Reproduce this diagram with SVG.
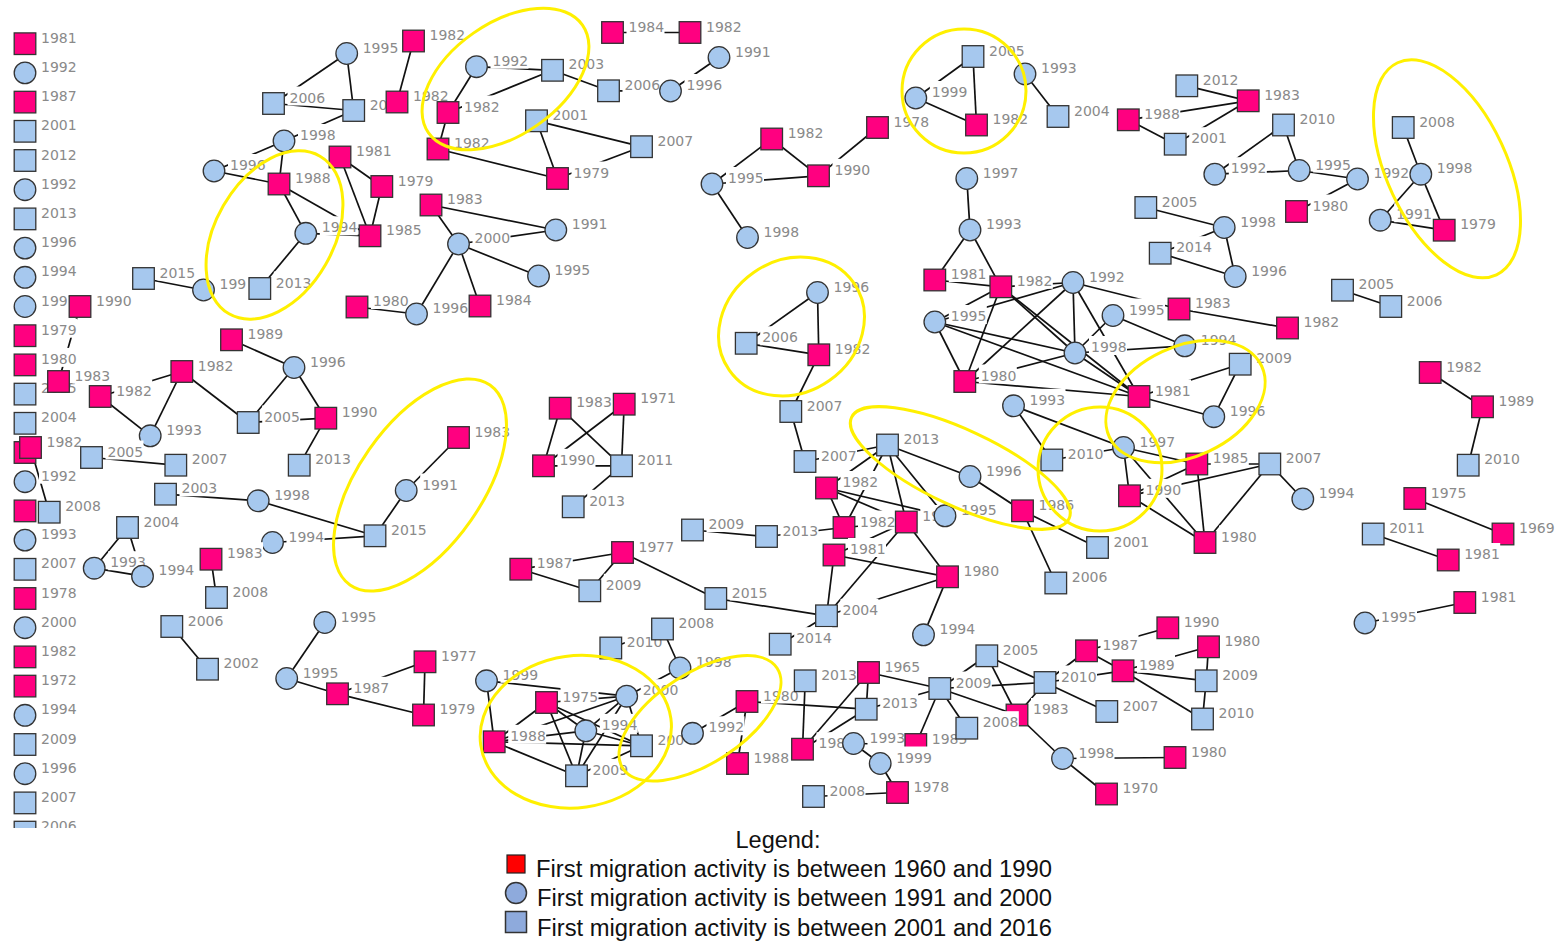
<svg xmlns="http://www.w3.org/2000/svg" xmlns:xlink="http://www.w3.org/1999/xlink" width="1561" height="943" viewBox="0 0 1561 943">
<style>
.p{fill:#ff0080;stroke:#333;stroke-width:1.3}
.b{fill:#a6c8ee;stroke:#333;stroke-width:1.3}
.n text{font-family:"DejaVu Sans",Verdana,sans-serif;font-size:14px;fill:#8a8a8a}
#connectors line{stroke:#111;stroke-width:1.7}
.ell{fill:none;stroke:#fff000;stroke-width:3}
.lg{font-family:"Liberation Sans",Arial,sans-serif;font-size:23.5px;fill:#111}
</style>
<defs>
<clipPath id="clip"><rect x="0" y="0" width="1561" height="828"/></clipPath>
<rect id="SP" x="-10.8" y="-10.8" width="21.6" height="21.6" class="p"/>
<rect id="SB" x="-10.8" y="-10.8" width="21.6" height="21.6" class="b"/>
<circle id="CB" r="10.8" class="b"/>
<rect id="L4" x="14" y="-17" width="38" height="19" fill="#fff"/>
<rect id="L3" x="14" y="-17" width="29" height="19" fill="#fff"/>
<rect id="L2" x="14" y="-17" width="20" height="19" fill="#fff"/>
</defs>
<rect width="1561" height="943" fill="#fff"/>
<g clip-path="url(#clip)">
<g id="connectors">
<line x1="80" y1="306.5" x2="58.5" y2="381.5"/><line x1="30.5" y1="447.5" x2="49.2" y2="512.2"/>
<line x1="346.7" y1="53.5" x2="273.5" y2="103.5"/><line x1="346.7" y1="53.5" x2="353.7" y2="110.5"/><line x1="273.5" y1="103.5" x2="353.7" y2="110.5"/><line x1="353.7" y1="110.5" x2="284" y2="141"/><line x1="413.5" y1="41" x2="397" y2="102"/><line x1="284" y1="141" x2="214" y2="171"/><line x1="284" y1="141" x2="279" y2="184"/><line x1="214" y1="171" x2="279" y2="184"/><line x1="279" y1="184" x2="305.8" y2="233.3"/><line x1="279" y1="184" x2="370" y2="235.8"/><line x1="305.8" y1="233.3" x2="370" y2="235.8"/><line x1="305.8" y1="233.3" x2="259.8" y2="288.5"/><line x1="143.5" y1="278.5" x2="203.5" y2="290"/><line x1="340" y1="157" x2="381.8" y2="186.5"/><line x1="340" y1="157" x2="370" y2="235.8"/><line x1="381.8" y1="186.5" x2="370" y2="235.8"/><line x1="357" y1="307" x2="416.5" y2="314"/>
<line x1="476.5" y1="66.7" x2="552.5" y2="70.3"/><line x1="476.5" y1="66.7" x2="448" y2="112.5"/><line x1="448" y1="112.5" x2="552.5" y2="70.3"/><line x1="552.5" y1="70.3" x2="608.5" y2="90.8"/><line x1="608.5" y1="90.8" x2="670.5" y2="91"/><line x1="612.5" y1="32.5" x2="690" y2="32.5"/><line x1="719" y1="57.5" x2="670.5" y2="91"/><line x1="448" y1="112.5" x2="438" y2="149"/><line x1="438" y1="149" x2="557.5" y2="178.5"/><line x1="536.5" y1="120.8" x2="557.5" y2="178.5"/><line x1="536.5" y1="120.8" x2="641.5" y2="146.7"/><line x1="557.5" y1="178.5" x2="641.5" y2="146.7"/><line x1="431" y1="205" x2="555.8" y2="230"/><line x1="431" y1="205" x2="458.5" y2="244"/><line x1="458.5" y1="244" x2="555.8" y2="230"/><line x1="458.5" y1="244" x2="538.5" y2="276"/><line x1="458.5" y1="244" x2="480" y2="306"/><line x1="458.5" y1="244" x2="416.5" y2="314"/>
<line x1="712" y1="184" x2="771.7" y2="139"/><line x1="771.7" y1="139" x2="818.5" y2="175.8"/><line x1="712" y1="184" x2="818.5" y2="175.8"/><line x1="818.5" y1="175.8" x2="877.5" y2="127.5"/><line x1="712" y1="184" x2="747.5" y2="237.5"/>
<line x1="973" y1="56.5" x2="915.8" y2="98"/><line x1="973" y1="56.5" x2="976.5" y2="125"/><line x1="915.8" y1="98" x2="976.5" y2="125"/><line x1="1025" y1="74" x2="1058" y2="116.5"/>
<line x1="1186.8" y1="85.8" x2="1248.2" y2="100.8"/><line x1="1128.3" y1="119.8" x2="1248.2" y2="100.8"/><line x1="1128.3" y1="119.8" x2="1175.2" y2="144.2"/><line x1="1175.2" y1="144.2" x2="1248.2" y2="100.8"/><line x1="1283.5" y1="125" x2="1214.8" y2="174.2"/><line x1="1283.5" y1="125" x2="1299.2" y2="170.5"/><line x1="1214.8" y1="174.2" x2="1299.2" y2="170.5"/><line x1="1299.2" y1="170.5" x2="1357.5" y2="179"/><line x1="1357.5" y1="179" x2="1296.5" y2="211.5"/><line x1="1145.8" y1="207.5" x2="1224.2" y2="227.5"/><line x1="1224.2" y1="227.5" x2="1160.2" y2="253.2"/><line x1="1160.2" y1="253.2" x2="1235.2" y2="276.5"/><line x1="1224.2" y1="227.5" x2="1235.2" y2="276.5"/><line x1="1403.2" y1="127.5" x2="1420.8" y2="174.2"/><line x1="1420.8" y1="174.2" x2="1380.2" y2="220.2"/><line x1="1420.8" y1="174.2" x2="1444.2" y2="230.2"/><line x1="1380.2" y1="220.2" x2="1444.2" y2="230.2"/><line x1="1342.5" y1="290.2" x2="1390.8" y2="306.5"/>
<line x1="966.8" y1="178.5" x2="970" y2="230"/><line x1="970" y1="230" x2="934.8" y2="280"/><line x1="970" y1="230" x2="1000.8" y2="286.8"/><line x1="934.8" y1="280" x2="1000.8" y2="286.8"/><line x1="1000.8" y1="286.8" x2="1073" y2="282.5"/><line x1="1000.8" y1="286.8" x2="934.8" y2="322"/><line x1="1000.8" y1="286.8" x2="1075" y2="353"/><line x1="1000.8" y1="286.8" x2="1139" y2="396.5"/><line x1="1000.8" y1="286.8" x2="964.8" y2="381.5"/><line x1="1073" y1="282.5" x2="934.8" y2="322"/><line x1="1073" y1="282.5" x2="1075" y2="353"/><line x1="1073" y1="282.5" x2="964.8" y2="381.5"/><line x1="1073" y1="282.5" x2="1139" y2="396.5"/><line x1="1073" y1="282.5" x2="1179" y2="309"/><line x1="1179" y1="309" x2="1287.5" y2="328"/><line x1="1113" y1="315.5" x2="1075" y2="353"/><line x1="1113" y1="315.5" x2="1184.8" y2="345.8"/><line x1="934.8" y1="322" x2="964.8" y2="381.5"/><line x1="934.8" y1="322" x2="1075" y2="353"/><line x1="934.8" y1="322" x2="1139" y2="396.5"/><line x1="964.8" y1="381.5" x2="1075" y2="353"/><line x1="964.8" y1="381.5" x2="1139" y2="396.5"/><line x1="1075" y1="353" x2="1184.8" y2="345.8"/><line x1="1075" y1="353" x2="1139" y2="396.5"/><line x1="1139" y1="396.5" x2="1240.2" y2="364.2"/><line x1="1139" y1="396.5" x2="1213.8" y2="416.7"/><line x1="1240.2" y1="364.2" x2="1213.8" y2="416.7"/><line x1="1013.5" y1="405.8" x2="1051.8" y2="460"/><line x1="1013.5" y1="405.8" x2="1123.5" y2="447.5"/><line x1="1051.8" y1="460" x2="1123.5" y2="447.5"/><line x1="1123.5" y1="447.5" x2="1196.8" y2="464"/><line x1="1123.5" y1="447.5" x2="1129.5" y2="495.8"/><line x1="1123.5" y1="447.5" x2="1205" y2="542.5"/><line x1="1196.8" y1="464" x2="1269.8" y2="464"/><line x1="1196.8" y1="464" x2="1129.5" y2="495.8"/><line x1="1196.8" y1="464" x2="1205" y2="542.5"/><line x1="1129.5" y1="495.8" x2="1269.8" y2="464"/><line x1="1129.5" y1="495.8" x2="1205" y2="542.5"/><line x1="1269.8" y1="464" x2="1205" y2="542.5"/><line x1="1269.8" y1="464" x2="1302.8" y2="499"/>
<line x1="817.5" y1="292.5" x2="746.2" y2="343.3"/><line x1="817.5" y1="292.5" x2="818.8" y2="354.8"/><line x1="746.2" y1="343.3" x2="818.8" y2="354.8"/><line x1="818.8" y1="354.8" x2="790.8" y2="411.5"/><line x1="790.8" y1="411.5" x2="805" y2="461.5"/><line x1="805" y1="461.5" x2="887.5" y2="445"/><line x1="887.5" y1="445" x2="970" y2="476.5"/><line x1="887.5" y1="445" x2="826.5" y2="488"/><line x1="887.5" y1="445" x2="844" y2="527.5"/><line x1="887.5" y1="445" x2="906.3" y2="522"/><line x1="887.5" y1="445" x2="945" y2="515.8"/><line x1="826.5" y1="488" x2="844" y2="527.5"/><line x1="826.5" y1="488" x2="945" y2="515.8"/><line x1="826.5" y1="488" x2="906.3" y2="522"/><line x1="844" y1="527.5" x2="906.3" y2="522"/><line x1="906.3" y1="522" x2="834" y2="555"/><line x1="906.3" y1="522" x2="826.5" y2="615.8"/><line x1="906.3" y1="522" x2="947.5" y2="576.8"/><line x1="834" y1="555" x2="947.5" y2="576.8"/><line x1="834" y1="555" x2="826.5" y2="615.8"/><line x1="826.5" y1="615.8" x2="947.5" y2="576.8"/><line x1="715.8" y1="598.5" x2="826.5" y2="615.8"/><line x1="947.5" y1="576.8" x2="923.5" y2="634.8"/><line x1="970" y1="476.5" x2="1022.5" y2="510.8"/><line x1="1022.5" y1="510.8" x2="1097.5" y2="547.5"/><line x1="1022.5" y1="510.8" x2="1055.8" y2="583"/><line x1="692.5" y1="530" x2="766.5" y2="536.5"/><line x1="766.5" y1="536.5" x2="844" y2="527.5"/><line x1="780.2" y1="644.2" x2="826.5" y2="615.8"/>
<line x1="520.8" y1="569.2" x2="622.5" y2="552.5"/><line x1="520.8" y1="569.2" x2="589.8" y2="590.8"/><line x1="622.5" y1="552.5" x2="589.8" y2="590.8"/><line x1="622.5" y1="552.5" x2="715.8" y2="598.5"/>
<line x1="560.2" y1="408.2" x2="543.5" y2="465.8"/><line x1="560.2" y1="408.2" x2="621.5" y2="465.8"/><line x1="624.2" y1="404.2" x2="543.5" y2="465.8"/><line x1="624.2" y1="404.2" x2="621.5" y2="465.8"/><line x1="543.5" y1="465.8" x2="621.5" y2="465.8"/><line x1="621.5" y1="465.8" x2="573.2" y2="506.8"/>
<line x1="231.5" y1="339.8" x2="294" y2="367.5"/><line x1="294" y1="367.5" x2="248.2" y2="422.5"/><line x1="294" y1="367.5" x2="325.8" y2="418.2"/><line x1="181.8" y1="371.5" x2="100.2" y2="396.5"/><line x1="181.8" y1="371.5" x2="248.2" y2="422.5"/><line x1="181.8" y1="371.5" x2="150.2" y2="435.8"/><line x1="100.2" y1="396.5" x2="150.2" y2="435.8"/><line x1="248.2" y1="422.5" x2="325.8" y2="418.2"/><line x1="325.8" y1="418.2" x2="299.2" y2="465.2"/>
<line x1="91.5" y1="457.5" x2="175.8" y2="465.2"/><line x1="165.5" y1="494.2" x2="258.2" y2="500.8"/><line x1="258.2" y1="500.8" x2="375" y2="535.8"/><line x1="272.5" y1="542.5" x2="375" y2="535.8"/><line x1="375" y1="535.8" x2="406.2" y2="490.5"/><line x1="406.2" y1="490.5" x2="458.5" y2="437.5"/>
<line x1="127.5" y1="527.5" x2="94.2" y2="568.2"/><line x1="127.5" y1="527.5" x2="142.5" y2="576.2"/><line x1="94.2" y1="568.2" x2="142.5" y2="576.2"/><line x1="211" y1="559.2" x2="216.5" y2="597.5"/><line x1="171.8" y1="626.5" x2="207.5" y2="669.2"/>
<line x1="324.8" y1="622.5" x2="286.7" y2="678.5"/><line x1="286.7" y1="678.5" x2="337.5" y2="693.8"/><line x1="337.5" y1="693.8" x2="425" y2="661.8"/><line x1="337.5" y1="693.8" x2="423.5" y2="715"/><line x1="425" y1="661.8" x2="423.5" y2="715"/>
<line x1="662.5" y1="629" x2="680" y2="668"/><line x1="610.8" y1="648" x2="662.5" y2="629"/><line x1="680" y1="668" x2="626.7" y2="696.2"/><line x1="486.5" y1="680.8" x2="626.7" y2="696.2"/><line x1="486.5" y1="680.8" x2="494.2" y2="741.8"/><line x1="546.5" y1="702.5" x2="626.7" y2="696.2"/><line x1="546.5" y1="702.5" x2="494.2" y2="741.8"/><line x1="546.5" y1="702.5" x2="576.5" y2="775.8"/><line x1="546.5" y1="702.5" x2="585.8" y2="730.8"/><line x1="546.5" y1="702.5" x2="641.5" y2="745.8"/><line x1="494.2" y1="741.8" x2="626.7" y2="696.2"/><line x1="494.2" y1="741.8" x2="585.8" y2="730.8"/><line x1="494.2" y1="741.8" x2="641.5" y2="745.8"/><line x1="494.2" y1="741.8" x2="576.5" y2="775.8"/><line x1="585.8" y1="730.8" x2="576.5" y2="775.8"/><line x1="626.7" y1="696.2" x2="585.8" y2="730.8"/><line x1="626.7" y1="696.2" x2="576.5" y2="775.8"/><line x1="585.8" y1="730.8" x2="641.5" y2="745.8"/><line x1="626.7" y1="696.2" x2="641.5" y2="745.8"/><line x1="641.5" y1="745.8" x2="576.5" y2="775.8"/><line x1="692.5" y1="733.3" x2="747" y2="701.5"/><line x1="747" y1="701.5" x2="737.5" y2="763.5"/><line x1="747" y1="701.5" x2="866.2" y2="709.2"/>
<line x1="805.2" y1="680.8" x2="802.5" y2="749.2"/><line x1="868.5" y1="672.5" x2="866.2" y2="709.2"/><line x1="868.5" y1="672.5" x2="802.5" y2="749.2"/><line x1="866.2" y1="709.2" x2="802.5" y2="749.2"/><line x1="868.5" y1="672.5" x2="939.8" y2="688.5"/><line x1="866.2" y1="709.2" x2="939.8" y2="688.5"/><line x1="939.8" y1="688.5" x2="915.8" y2="744.5"/><line x1="939.8" y1="688.5" x2="986.8" y2="655.8"/><line x1="939.8" y1="688.5" x2="966.8" y2="728.2"/><line x1="939.8" y1="688.5" x2="1017" y2="715"/><line x1="939.8" y1="688.5" x2="1045" y2="682.5"/><line x1="986.8" y1="655.8" x2="1045" y2="682.5"/><line x1="986.8" y1="655.8" x2="1017" y2="715"/><line x1="1017" y1="715" x2="1045" y2="682.5"/><line x1="1017" y1="715" x2="1062.5" y2="758.5"/><line x1="1062.5" y1="758.5" x2="1106.5" y2="794"/><line x1="1062.5" y1="758.5" x2="1175" y2="757.5"/><line x1="1045" y1="682.5" x2="1086.5" y2="650.8"/><line x1="1045" y1="682.5" x2="1123" y2="670.8"/><line x1="1045" y1="682.5" x2="1106.8" y2="711.5"/><line x1="1086.5" y1="650.8" x2="1123" y2="670.8"/><line x1="1086.5" y1="650.8" x2="1167.8" y2="627.8"/><line x1="1123" y1="670.8" x2="1208.5" y2="646.8"/><line x1="1123" y1="670.8" x2="1206.2" y2="680.8"/><line x1="1123" y1="670.8" x2="1202.5" y2="719"/><line x1="1208.5" y1="646.8" x2="1206.2" y2="680.8"/><line x1="1206.2" y1="680.8" x2="1202.5" y2="719"/><line x1="853.5" y1="743.5" x2="880.2" y2="763.5"/><line x1="853.5" y1="743.5" x2="915.8" y2="744.5"/><line x1="880.2" y1="763.5" x2="897.5" y2="792.5"/><line x1="813.5" y1="796.5" x2="897.5" y2="792.5"/>
<line x1="1430.2" y1="372.5" x2="1482.5" y2="406.8"/><line x1="1482.5" y1="406.8" x2="1468.2" y2="465.2"/><line x1="1414.8" y1="498.5" x2="1503" y2="534"/><line x1="1373.2" y1="534" x2="1448.2" y2="560"/><line x1="1365" y1="623" x2="1464.8" y2="602.5"/>
</g>
<g id="nodes">
<g id="col0" class="n" transform="translate(25 43.7)"><use href="#L4"/><text x="16" y="-1">1981</text><use href="#SP"/></g>
<g id="col1" class="n" transform="translate(25 72.9)"><use href="#L4"/><text x="16" y="-1">1992</text><use href="#CB"/></g>
<g id="col2" class="n" transform="translate(25 102.1)"><use href="#L4"/><text x="16" y="-1">1987</text><use href="#SP"/></g>
<g id="col3" class="n" transform="translate(25 131.3)"><use href="#L4"/><text x="16" y="-1">2001</text><use href="#SB"/></g>
<g id="col4" class="n" transform="translate(25 160.5)"><use href="#L4"/><text x="16" y="-1">2012</text><use href="#SB"/></g>
<g id="col5" class="n" transform="translate(25 189.7)"><use href="#L4"/><text x="16" y="-1">1992</text><use href="#CB"/></g>
<g id="col6" class="n" transform="translate(25 218.9)"><use href="#L4"/><text x="16" y="-1">2013</text><use href="#SB"/></g>
<g id="col7" class="n" transform="translate(25 248.1)"><use href="#L4"/><text x="16" y="-1">1996</text><use href="#CB"/></g>
<g id="col8" class="n" transform="translate(25 277.3)"><use href="#L4"/><text x="16" y="-1">1994</text><use href="#CB"/></g>
<g id="col9" class="n" transform="translate(25 306.5)"><use href="#L4"/><text x="16" y="-1">1997</text><use href="#CB"/></g>
<g id="col10" class="n" transform="translate(25 335.7)"><use href="#L4"/><text x="16" y="-1">1979</text><use href="#SP"/></g>
<g id="col11" class="n" transform="translate(25 364.9)"><use href="#L4"/><text x="16" y="-1">1980</text><use href="#SP"/></g>
<g id="col12" class="n" transform="translate(25 394.1)"><use href="#L4"/><text x="16" y="-1">2015</text><use href="#SB"/></g>
<g id="col13" class="n" transform="translate(25 423.3)"><use href="#L4"/><text x="16" y="-1">2004</text><use href="#SB"/></g>
<g id="col14" class="n" transform="translate(25 452.5)"><use href="#SP"/></g>
<g id="col15" class="n" transform="translate(25 481.7)"><use href="#L4"/><text x="16" y="-1">1992</text><use href="#CB"/></g>
<g id="col16" class="n" transform="translate(25 510.9)"><use href="#SP"/></g>
<g id="col17" class="n" transform="translate(25 540.1)"><use href="#L4"/><text x="16" y="-1">1993</text><use href="#CB"/></g>
<g id="col18" class="n" transform="translate(25 569.3)"><use href="#L4"/><text x="16" y="-1">2007</text><use href="#SB"/></g>
<g id="col19" class="n" transform="translate(25 598.5)"><use href="#L4"/><text x="16" y="-1">1978</text><use href="#SP"/></g>
<g id="col20" class="n" transform="translate(25 627.7)"><use href="#L4"/><text x="16" y="-1">2000</text><use href="#CB"/></g>
<g id="col21" class="n" transform="translate(25 656.9)"><use href="#L4"/><text x="16" y="-1">1982</text><use href="#SP"/></g>
<g id="col22" class="n" transform="translate(25 686.1)"><use href="#L4"/><text x="16" y="-1">1972</text><use href="#SP"/></g>
<g id="col23" class="n" transform="translate(25 715.3)"><use href="#L4"/><text x="16" y="-1">1994</text><use href="#CB"/></g>
<g id="col24" class="n" transform="translate(25 744.5)"><use href="#L4"/><text x="16" y="-1">2009</text><use href="#SB"/></g>
<g id="col25" class="n" transform="translate(25 773.7)"><use href="#L4"/><text x="16" y="-1">1996</text><use href="#CB"/></g>
<g id="col26" class="n" transform="translate(25 802.9)"><use href="#L4"/><text x="16" y="-1">2007</text><use href="#SB"/></g>
<g id="col27" class="n" transform="translate(25 832.1)"><use href="#L4"/><text x="16" y="-1">2006</text><use href="#SB"/></g>
<g id="l1990" class="n" transform="translate(80 306.5)"><use href="#L4"/><text x="16" y="-1">1990</text><use href="#SP"/></g>
<g id="l1983" class="n" transform="translate(58.5 381.5)"><use href="#L4"/><text x="16" y="-1">1983</text><use href="#SP"/></g>
<g id="l1982" class="n" transform="translate(30.5 447.5)"><use href="#L4"/><text x="16" y="-1">1982</text><use href="#SP"/></g>
<g id="l2008" class="n" transform="translate(49.2 512.2)"><use href="#L4"/><text x="16" y="-1">2008</text><use href="#SB"/></g>
<g id="a1995" class="n" transform="translate(346.7 53.5)"><use href="#L4"/><text x="16" y="-1">1995</text><use href="#CB"/></g>
<g id="a2006" class="n" transform="translate(273.5 103.5)"><use href="#L4"/><text x="16" y="-1">2006</text><use href="#SB"/></g>
<g id="a20" class="n" transform="translate(353.7 110.5)"><use href="#L2"/><text x="16" y="-1">20</text><use href="#SB"/></g>
<g id="a1982u" class="n" transform="translate(413.5 41)"><use href="#L4"/><text x="16" y="-1">1982</text><use href="#SP"/></g>
<g id="a1982m" class="n" transform="translate(397 102)"><use href="#L4"/><text x="16" y="-1">1982</text><use href="#SP"/></g>
<g id="a1998" class="n" transform="translate(284 141)"><use href="#L4"/><text x="16" y="-1">1998</text><use href="#CB"/></g>
<g id="a1996" class="n" transform="translate(214 171)"><use href="#L4"/><text x="16" y="-1">1996</text><use href="#CB"/></g>
<g id="a1988" class="n" transform="translate(279 184)"><use href="#L4"/><text x="16" y="-1">1988</text><use href="#SP"/></g>
<g id="a1994" class="n" transform="translate(305.8 233.3)"><use href="#L4"/><text x="16" y="-1">1994</text><use href="#CB"/></g>
<g id="a2015" class="n" transform="translate(143.5 278.5)"><use href="#L4"/><text x="16" y="-1">2015</text><use href="#SB"/></g>
<g id="a199" class="n" transform="translate(203.5 290)"><use href="#L3"/><text x="16" y="-1">199</text><use href="#CB"/></g>
<g id="a2013" class="n" transform="translate(259.8 288.5)"><use href="#L4"/><text x="16" y="-1">2013</text><use href="#SB"/></g>
<g id="a1981" class="n" transform="translate(340 157)"><use href="#L4"/><text x="16" y="-1">1981</text><use href="#SP"/></g>
<g id="a1979" class="n" transform="translate(381.8 186.5)"><use href="#L4"/><text x="16" y="-1">1979</text><use href="#SP"/></g>
<g id="a1985" class="n" transform="translate(370 235.8)"><use href="#L4"/><text x="16" y="-1">1985</text><use href="#SP"/></g>
<g id="a1980" class="n" transform="translate(357 307)"><use href="#L4"/><text x="16" y="-1">1980</text><use href="#SP"/></g>
<g id="b1992" class="n" transform="translate(476.5 66.7)"><use href="#L4"/><text x="16" y="-1">1992</text><use href="#CB"/></g>
<g id="b2003" class="n" transform="translate(552.5 70.3)"><use href="#L4"/><text x="16" y="-1">2003</text><use href="#SB"/></g>
<g id="b2006" class="n" transform="translate(608.5 90.8)"><use href="#L4"/><text x="16" y="-1">2006</text><use href="#SB"/></g>
<g id="b1996t" class="n" transform="translate(670.5 91)"><use href="#L4"/><text x="16" y="-1">1996</text><use href="#CB"/></g>
<g id="b1991t" class="n" transform="translate(719 57.5)"><use href="#L4"/><text x="16" y="-1">1991</text><use href="#CB"/></g>
<g id="b1984" class="n" transform="translate(612.5 32.5)"><use href="#L4"/><text x="16" y="-1">1984</text><use href="#SP"/></g>
<g id="b1982t" class="n" transform="translate(690 32.5)"><use href="#L4"/><text x="16" y="-1">1982</text><use href="#SP"/></g>
<g id="b1982m" class="n" transform="translate(448 112.5)"><use href="#L4"/><text x="16" y="-1">1982</text><use href="#SP"/></g>
<g id="b1982l" class="n" transform="translate(438 149)"><use href="#L4"/><text x="16" y="-1">1982</text><use href="#SP"/></g>
<g id="b2001" class="n" transform="translate(536.5 120.8)"><use href="#L4"/><text x="16" y="-1">2001</text><use href="#SB"/></g>
<g id="b2007" class="n" transform="translate(641.5 146.7)"><use href="#L4"/><text x="16" y="-1">2007</text><use href="#SB"/></g>
<g id="b1979" class="n" transform="translate(557.5 178.5)"><use href="#L4"/><text x="16" y="-1">1979</text><use href="#SP"/></g>
<g id="b1983" class="n" transform="translate(431 205)"><use href="#L4"/><text x="16" y="-1">1983</text><use href="#SP"/></g>
<g id="b1991" class="n" transform="translate(555.8 230)"><use href="#L4"/><text x="16" y="-1">1991</text><use href="#CB"/></g>
<g id="b2000" class="n" transform="translate(458.5 244)"><use href="#L4"/><text x="16" y="-1">2000</text><use href="#CB"/></g>
<g id="b1995" class="n" transform="translate(538.5 276)"><use href="#L4"/><text x="16" y="-1">1995</text><use href="#CB"/></g>
<g id="b1996" class="n" transform="translate(416.5 314)"><use href="#L4"/><text x="16" y="-1">1996</text><use href="#CB"/></g>
<g id="b1984b" class="n" transform="translate(480 306)"><use href="#L4"/><text x="16" y="-1">1984</text><use href="#SP"/></g>
<g id="c1995" class="n" transform="translate(712 184)"><use href="#L4"/><text x="16" y="-1">1995</text><use href="#CB"/></g>
<g id="c1982" class="n" transform="translate(771.7 139)"><use href="#L4"/><text x="16" y="-1">1982</text><use href="#SP"/></g>
<g id="c1990" class="n" transform="translate(818.5 175.8)"><use href="#L4"/><text x="16" y="-1">1990</text><use href="#SP"/></g>
<g id="c1978" class="n" transform="translate(877.5 127.5)"><use href="#L4"/><text x="16" y="-1">1978</text><use href="#SP"/></g>
<g id="c1998" class="n" transform="translate(747.5 237.5)"><use href="#L4"/><text x="16" y="-1">1998</text><use href="#CB"/></g>
<g id="d2005" class="n" transform="translate(973 56.5)"><use href="#L4"/><text x="16" y="-1">2005</text><use href="#SB"/></g>
<g id="d1999" class="n" transform="translate(915.8 98)"><use href="#L4"/><text x="16" y="-1">1999</text><use href="#CB"/></g>
<g id="d1982" class="n" transform="translate(976.5 125)"><use href="#L4"/><text x="16" y="-1">1982</text><use href="#SP"/></g>
<g id="d1993" class="n" transform="translate(1025 74)"><use href="#L4"/><text x="16" y="-1">1993</text><use href="#CB"/></g>
<g id="d2004" class="n" transform="translate(1058 116.5)"><use href="#L4"/><text x="16" y="-1">2004</text><use href="#SB"/></g>
<g id="e2012" class="n" transform="translate(1186.8 85.8)"><use href="#L4"/><text x="16" y="-1">2012</text><use href="#SB"/></g>
<g id="e1983" class="n" transform="translate(1248.2 100.8)"><use href="#L4"/><text x="16" y="-1">1983</text><use href="#SP"/></g>
<g id="e1988" class="n" transform="translate(1128.3 119.8)"><use href="#L4"/><text x="16" y="-1">1988</text><use href="#SP"/></g>
<g id="e2001" class="n" transform="translate(1175.2 144.2)"><use href="#L4"/><text x="16" y="-1">2001</text><use href="#SB"/></g>
<g id="e2010" class="n" transform="translate(1283.5 125)"><use href="#L4"/><text x="16" y="-1">2010</text><use href="#SB"/></g>
<g id="e1992" class="n" transform="translate(1214.8 174.2)"><use href="#L4"/><text x="16" y="-1">1992</text><use href="#CB"/></g>
<g id="e1995" class="n" transform="translate(1299.2 170.5)"><use href="#L4"/><text x="16" y="-1">1995</text><use href="#CB"/></g>
<g id="e1992b" class="n" transform="translate(1357.5 179)"><use href="#L4"/><text x="16" y="-1">1992</text><use href="#CB"/></g>
<g id="e1980" class="n" transform="translate(1296.5 211.5)"><use href="#L4"/><text x="16" y="-1">1980</text><use href="#SP"/></g>
<g id="e2005" class="n" transform="translate(1145.8 207.5)"><use href="#L4"/><text x="16" y="-1">2005</text><use href="#SB"/></g>
<g id="e1998" class="n" transform="translate(1224.2 227.5)"><use href="#L4"/><text x="16" y="-1">1998</text><use href="#CB"/></g>
<g id="e2014" class="n" transform="translate(1160.2 253.2)"><use href="#L4"/><text x="16" y="-1">2014</text><use href="#SB"/></g>
<g id="e1996" class="n" transform="translate(1235.2 276.5)"><use href="#L4"/><text x="16" y="-1">1996</text><use href="#CB"/></g>
<g id="e2008" class="n" transform="translate(1403.2 127.5)"><use href="#L4"/><text x="16" y="-1">2008</text><use href="#SB"/></g>
<g id="e1998r" class="n" transform="translate(1420.8 174.2)"><use href="#L4"/><text x="16" y="-1">1998</text><use href="#CB"/></g>
<g id="e1991" class="n" transform="translate(1380.2 220.2)"><use href="#L4"/><text x="16" y="-1">1991</text><use href="#CB"/></g>
<g id="e1979" class="n" transform="translate(1444.2 230.2)"><use href="#L4"/><text x="16" y="-1">1979</text><use href="#SP"/></g>
<g id="e2005r" class="n" transform="translate(1342.5 290.2)"><use href="#L4"/><text x="16" y="-1">2005</text><use href="#SB"/></g>
<g id="e2006r" class="n" transform="translate(1390.8 306.5)"><use href="#L4"/><text x="16" y="-1">2006</text><use href="#SB"/></g>
<g id="f1997t" class="n" transform="translate(966.8 178.5)"><use href="#L4"/><text x="16" y="-1">1997</text><use href="#CB"/></g>
<g id="f1993t" class="n" transform="translate(970 230)"><use href="#L4"/><text x="16" y="-1">1993</text><use href="#CB"/></g>
<g id="f1981" class="n" transform="translate(934.8 280)"><use href="#L4"/><text x="16" y="-1">1981</text><use href="#SP"/></g>
<g id="f1982" class="n" transform="translate(1000.8 286.8)"><use href="#L4"/><text x="16" y="-1">1982</text><use href="#SP"/></g>
<g id="f1992" class="n" transform="translate(1073 282.5)"><use href="#L4"/><text x="16" y="-1">1992</text><use href="#CB"/></g>
<g id="f1995a" class="n" transform="translate(934.8 322)"><use href="#L4"/><text x="16" y="-1">1995</text><use href="#CB"/></g>
<g id="f1995b" class="n" transform="translate(1113 315.5)"><use href="#L4"/><text x="16" y="-1">1995</text><use href="#CB"/></g>
<g id="f1983" class="n" transform="translate(1179 309)"><use href="#L4"/><text x="16" y="-1">1983</text><use href="#SP"/></g>
<g id="f1982r" class="n" transform="translate(1287.5 328)"><use href="#L4"/><text x="16" y="-1">1982</text><use href="#SP"/></g>
<g id="f1998" class="n" transform="translate(1075 353)"><use href="#L4"/><text x="16" y="-1">1998</text><use href="#CB"/></g>
<g id="f1980" class="n" transform="translate(964.8 381.5)"><use href="#L4"/><text x="16" y="-1">1980</text><use href="#SP"/></g>
<g id="f1993" class="n" transform="translate(1013.5 405.8)"><use href="#L4"/><text x="16" y="-1">1993</text><use href="#CB"/></g>
<g id="f1981b" class="n" transform="translate(1139 396.5)"><use href="#L4"/><text x="16" y="-1">1981</text><use href="#SP"/></g>
<g id="f1994" class="n" transform="translate(1184.8 345.8)"><use href="#L4"/><text x="16" y="-1">1994</text><use href="#CB"/></g>
<g id="f2009" class="n" transform="translate(1240.2 364.2)"><use href="#L4"/><text x="16" y="-1">2009</text><use href="#SB"/></g>
<g id="f1996" class="n" transform="translate(1213.8 416.7)"><use href="#L4"/><text x="16" y="-1">1996</text><use href="#CB"/></g>
<g id="f2010" class="n" transform="translate(1051.8 460)"><use href="#L4"/><text x="16" y="-1">2010</text><use href="#SB"/></g>
<g id="f1997" class="n" transform="translate(1123.5 447.5)"><use href="#L4"/><text x="16" y="-1">1997</text><use href="#CB"/></g>
<g id="f1990" class="n" transform="translate(1129.5 495.8)"><use href="#L4"/><text x="16" y="-1">1990</text><use href="#SP"/></g>
<g id="f1985" class="n" transform="translate(1196.8 464)"><use href="#L4"/><text x="16" y="-1">1985</text><use href="#SP"/></g>
<g id="f2007" class="n" transform="translate(1269.8 464)"><use href="#L4"/><text x="16" y="-1">2007</text><use href="#SB"/></g>
<g id="f1994b" class="n" transform="translate(1302.8 499)"><use href="#L4"/><text x="16" y="-1">1994</text><use href="#CB"/></g>
<g id="f1980b" class="n" transform="translate(1205 542.5)"><use href="#L4"/><text x="16" y="-1">1980</text><use href="#SP"/></g>
<g id="g1996" class="n" transform="translate(817.5 292.5)"><use href="#L4"/><text x="16" y="-1">1996</text><use href="#CB"/></g>
<g id="g2006" class="n" transform="translate(746.2 343.3)"><use href="#L4"/><text x="16" y="-1">2006</text><use href="#SB"/></g>
<g id="g1982" class="n" transform="translate(818.8 354.8)"><use href="#L4"/><text x="16" y="-1">1982</text><use href="#SP"/></g>
<g id="g2007" class="n" transform="translate(790.8 411.5)"><use href="#L4"/><text x="16" y="-1">2007</text><use href="#SB"/></g>
<g id="g2007b" class="n" transform="translate(805 461.5)"><use href="#L4"/><text x="16" y="-1">2007</text><use href="#SB"/></g>
<g id="g2013" class="n" transform="translate(887.5 445)"><use href="#L4"/><text x="16" y="-1">2013</text><use href="#SB"/></g>
<g id="g1982a" class="n" transform="translate(826.5 488)"><use href="#L4"/><text x="16" y="-1">1982</text><use href="#SP"/></g>
<g id="g1982b" class="n" transform="translate(844 527.5)"><use href="#L4"/><text x="16" y="-1">1982</text><use href="#SP"/></g>
<g id="g19" class="n" transform="translate(906.3 522)"><use href="#L2"/><text x="16" y="-1">19</text><use href="#SP"/></g>
<g id="g1995" class="n" transform="translate(945 515.8)"><use href="#L4"/><text x="16" y="-1">1995</text><use href="#CB"/></g>
<g id="g1996b" class="n" transform="translate(970 476.5)"><use href="#L4"/><text x="16" y="-1">1996</text><use href="#CB"/></g>
<g id="g1986" class="n" transform="translate(1022.5 510.8)"><use href="#L4"/><text x="16" y="-1">1986</text><use href="#SP"/></g>
<g id="g2001" class="n" transform="translate(1097.5 547.5)"><use href="#L4"/><text x="16" y="-1">2001</text><use href="#SB"/></g>
<g id="g2006b" class="n" transform="translate(1055.8 583)"><use href="#L4"/><text x="16" y="-1">2006</text><use href="#SB"/></g>
<g id="g1981" class="n" transform="translate(834 555)"><use href="#L4"/><text x="16" y="-1">1981</text><use href="#SP"/></g>
<g id="g1980" class="n" transform="translate(947.5 576.8)"><use href="#L4"/><text x="16" y="-1">1980</text><use href="#SP"/></g>
<g id="g2004" class="n" transform="translate(826.5 615.8)"><use href="#L4"/><text x="16" y="-1">2004</text><use href="#SB"/></g>
<g id="g2015" class="n" transform="translate(715.8 598.5)"><use href="#L4"/><text x="16" y="-1">2015</text><use href="#SB"/></g>
<g id="g2013l" class="n" transform="translate(766.5 536.5)"><use href="#L4"/><text x="16" y="-1">2013</text><use href="#SB"/></g>
<g id="g2009" class="n" transform="translate(692.5 530)"><use href="#L4"/><text x="16" y="-1">2009</text><use href="#SB"/></g>
<g id="g1994" class="n" transform="translate(923.5 634.8)"><use href="#L4"/><text x="16" y="-1">1994</text><use href="#CB"/></g>
<g id="g2014" class="n" transform="translate(780.2 644.2)"><use href="#L4"/><text x="16" y="-1">2014</text><use href="#SB"/></g>
<g id="h1987" class="n" transform="translate(520.8 569.2)"><use href="#L4"/><text x="16" y="-1">1987</text><use href="#SP"/></g>
<g id="h1977" class="n" transform="translate(622.5 552.5)"><use href="#L4"/><text x="16" y="-1">1977</text><use href="#SP"/></g>
<g id="h2009" class="n" transform="translate(589.8 590.8)"><use href="#L4"/><text x="16" y="-1">2009</text><use href="#SB"/></g>
<g id="i1983" class="n" transform="translate(560.2 408.2)"><use href="#L4"/><text x="16" y="-1">1983</text><use href="#SP"/></g>
<g id="i1971" class="n" transform="translate(624.2 404.2)"><use href="#L4"/><text x="16" y="-1">1971</text><use href="#SP"/></g>
<g id="i1990" class="n" transform="translate(543.5 465.8)"><use href="#L4"/><text x="16" y="-1">1990</text><use href="#SP"/></g>
<g id="i2011" class="n" transform="translate(621.5 465.8)"><use href="#L4"/><text x="16" y="-1">2011</text><use href="#SB"/></g>
<g id="i2013" class="n" transform="translate(573.2 506.8)"><use href="#L4"/><text x="16" y="-1">2013</text><use href="#SB"/></g>
<g id="j1989" class="n" transform="translate(231.5 339.8)"><use href="#L4"/><text x="16" y="-1">1989</text><use href="#SP"/></g>
<g id="j1996" class="n" transform="translate(294 367.5)"><use href="#L4"/><text x="16" y="-1">1996</text><use href="#CB"/></g>
<g id="j1982" class="n" transform="translate(181.8 371.5)"><use href="#L4"/><text x="16" y="-1">1982</text><use href="#SP"/></g>
<g id="j1982b" class="n" transform="translate(100.2 396.5)"><use href="#L4"/><text x="16" y="-1">1982</text><use href="#SP"/></g>
<g id="j2005" class="n" transform="translate(248.2 422.5)"><use href="#L4"/><text x="16" y="-1">2005</text><use href="#SB"/></g>
<g id="j1990" class="n" transform="translate(325.8 418.2)"><use href="#L4"/><text x="16" y="-1">1990</text><use href="#SP"/></g>
<g id="j1993" class="n" transform="translate(150.2 435.8)"><use href="#L4"/><text x="16" y="-1">1993</text><use href="#CB"/></g>
<g id="j2013" class="n" transform="translate(299.2 465.2)"><use href="#L4"/><text x="16" y="-1">2013</text><use href="#SB"/></g>
<g id="k2005" class="n" transform="translate(91.5 457.5)"><use href="#L4"/><text x="16" y="-1">2005</text><use href="#SB"/></g>
<g id="k2007" class="n" transform="translate(175.8 465.2)"><use href="#L4"/><text x="16" y="-1">2007</text><use href="#SB"/></g>
<g id="k2003" class="n" transform="translate(165.5 494.2)"><use href="#L4"/><text x="16" y="-1">2003</text><use href="#SB"/></g>
<g id="k1998" class="n" transform="translate(258.2 500.8)"><use href="#L4"/><text x="16" y="-1">1998</text><use href="#CB"/></g>
<g id="k2015" class="n" transform="translate(375 535.8)"><use href="#L4"/><text x="16" y="-1">2015</text><use href="#SB"/></g>
<g id="k1994" class="n" transform="translate(272.5 542.5)"><use href="#L4"/><text x="16" y="-1">1994</text><use href="#CB"/></g>
<g id="k1991" class="n" transform="translate(406.2 490.5)"><use href="#L4"/><text x="16" y="-1">1991</text><use href="#CB"/></g>
<g id="k1983" class="n" transform="translate(458.5 437.5)"><use href="#L4"/><text x="16" y="-1">1983</text><use href="#SP"/></g>
<g id="l2004" class="n" transform="translate(127.5 527.5)"><use href="#L4"/><text x="16" y="-1">2004</text><use href="#SB"/></g>
<g id="l1993" class="n" transform="translate(94.2 568.2)"><use href="#L4"/><text x="16" y="-1">1993</text><use href="#CB"/></g>
<g id="l1994" class="n" transform="translate(142.5 576.2)"><use href="#L4"/><text x="16" y="-1">1994</text><use href="#CB"/></g>
<g id="l1983b" class="n" transform="translate(211 559.2)"><use href="#L4"/><text x="16" y="-1">1983</text><use href="#SP"/></g>
<g id="l2008b" class="n" transform="translate(216.5 597.5)"><use href="#L4"/><text x="16" y="-1">2008</text><use href="#SB"/></g>
<g id="l2006" class="n" transform="translate(171.8 626.5)"><use href="#L4"/><text x="16" y="-1">2006</text><use href="#SB"/></g>
<g id="l2002" class="n" transform="translate(207.5 669.2)"><use href="#L4"/><text x="16" y="-1">2002</text><use href="#SB"/></g>
<g id="m1995u" class="n" transform="translate(324.8 622.5)"><use href="#L4"/><text x="16" y="-1">1995</text><use href="#CB"/></g>
<g id="m1995" class="n" transform="translate(286.7 678.5)"><use href="#L4"/><text x="16" y="-1">1995</text><use href="#CB"/></g>
<g id="m1987" class="n" transform="translate(337.5 693.8)"><use href="#L4"/><text x="16" y="-1">1987</text><use href="#SP"/></g>
<g id="m1977" class="n" transform="translate(425 661.8)"><use href="#L4"/><text x="16" y="-1">1977</text><use href="#SP"/></g>
<g id="m1979" class="n" transform="translate(423.5 715)"><use href="#L4"/><text x="16" y="-1">1979</text><use href="#SP"/></g>
<g id="n2010" class="n" transform="translate(610.8 648)"><use href="#L4"/><text x="16" y="-1">2010</text><use href="#SB"/></g>
<g id="n2008" class="n" transform="translate(662.5 629)"><use href="#L4"/><text x="16" y="-1">2008</text><use href="#SB"/></g>
<g id="n1998" class="n" transform="translate(680 668)"><use href="#L4"/><text x="16" y="-1">1998</text><use href="#CB"/></g>
<g id="n1999" class="n" transform="translate(486.5 680.8)"><use href="#L4"/><text x="16" y="-1">1999</text><use href="#CB"/></g>
<g id="n1975" class="n" transform="translate(546.5 702.5)"><use href="#L4"/><text x="16" y="-1">1975</text><use href="#SP"/></g>
<g id="n2000" class="n" transform="translate(626.7 696.2)"><use href="#L4"/><text x="16" y="-1">2000</text><use href="#CB"/></g>
<g id="n1994" class="n" transform="translate(585.8 730.8)"><use href="#L4"/><text x="16" y="-1">1994</text><use href="#CB"/></g>
<g id="n1988" class="n" transform="translate(494.2 741.8)"><use href="#L4"/><text x="16" y="-1">1988</text><use href="#SP"/></g>
<g id="n2009" class="n" transform="translate(576.5 775.8)"><use href="#L4"/><text x="16" y="-1">2009</text><use href="#SB"/></g>
<g id="n200" class="n" transform="translate(641.5 745.8)"><use href="#L3"/><text x="16" y="-1">200</text><use href="#SB"/></g>
<g id="n1992" class="n" transform="translate(692.5 733.3)"><use href="#L4"/><text x="16" y="-1">1992</text><use href="#CB"/></g>
<g id="n1980" class="n" transform="translate(747 701.5)"><use href="#L4"/><text x="16" y="-1">1980</text><use href="#SP"/></g>
<g id="n1988b" class="n" transform="translate(737.5 763.5)"><use href="#L4"/><text x="16" y="-1">1988</text><use href="#SP"/></g>
<g id="o2013" class="n" transform="translate(805.2 680.8)"><use href="#L4"/><text x="16" y="-1">2013</text><use href="#SB"/></g>
<g id="o1965" class="n" transform="translate(868.5 672.5)"><use href="#L4"/><text x="16" y="-1">1965</text><use href="#SP"/></g>
<g id="o2013b" class="n" transform="translate(866.2 709.2)"><use href="#L4"/><text x="16" y="-1">2013</text><use href="#SB"/></g>
<g id="o198" class="n" transform="translate(802.5 749.2)"><use href="#L3"/><text x="16" y="-1">198</text><use href="#SP"/></g>
<g id="o1993" class="n" transform="translate(853.5 743.5)"><use href="#L4"/><text x="16" y="-1">1993</text><use href="#CB"/></g>
<g id="o1985" class="n" transform="translate(915.8 744.5)"><use href="#L4"/><text x="16" y="-1">1985</text><use href="#SP"/></g>
<g id="o1999" class="n" transform="translate(880.2 763.5)"><use href="#L4"/><text x="16" y="-1">1999</text><use href="#CB"/></g>
<g id="o2008" class="n" transform="translate(813.5 796.5)"><use href="#L4"/><text x="16" y="-1">2008</text><use href="#SB"/></g>
<g id="o1978" class="n" transform="translate(897.5 792.5)"><use href="#L4"/><text x="16" y="-1">1978</text><use href="#SP"/></g>
<g id="o2009" class="n" transform="translate(939.8 688.5)"><use href="#L4"/><text x="16" y="-1">2009</text><use href="#SB"/></g>
<g id="o2005" class="n" transform="translate(986.8 655.8)"><use href="#L4"/><text x="16" y="-1">2005</text><use href="#SB"/></g>
<g id="o1983" class="n" transform="translate(1017 715)"><use href="#L4"/><text x="16" y="-1">1983</text><use href="#SP"/></g>
<g id="o2008b" class="n" transform="translate(966.8 728.2)"><use href="#L4"/><text x="16" y="-1">2008</text><use href="#SB"/></g>
<g id="o2010" class="n" transform="translate(1045 682.5)"><use href="#L4"/><text x="16" y="-1">2010</text><use href="#SB"/></g>
<g id="o1987" class="n" transform="translate(1086.5 650.8)"><use href="#L4"/><text x="16" y="-1">1987</text><use href="#SP"/></g>
<g id="o1989" class="n" transform="translate(1123 670.8)"><use href="#L4"/><text x="16" y="-1">1989</text><use href="#SP"/></g>
<g id="o2007" class="n" transform="translate(1106.8 711.5)"><use href="#L4"/><text x="16" y="-1">2007</text><use href="#SB"/></g>
<g id="o1998" class="n" transform="translate(1062.5 758.5)"><use href="#L4"/><text x="16" y="-1">1998</text><use href="#CB"/></g>
<g id="o1970" class="n" transform="translate(1106.5 794)"><use href="#L4"/><text x="16" y="-1">1970</text><use href="#SP"/></g>
<g id="o1990" class="n" transform="translate(1167.8 627.8)"><use href="#L4"/><text x="16" y="-1">1990</text><use href="#SP"/></g>
<g id="o1980" class="n" transform="translate(1208.5 646.8)"><use href="#L4"/><text x="16" y="-1">1980</text><use href="#SP"/></g>
<g id="o2009b" class="n" transform="translate(1206.2 680.8)"><use href="#L4"/><text x="16" y="-1">2009</text><use href="#SB"/></g>
<g id="o2010b" class="n" transform="translate(1202.5 719)"><use href="#L4"/><text x="16" y="-1">2010</text><use href="#SB"/></g>
<g id="o1980b" class="n" transform="translate(1175 757.5)"><use href="#L4"/><text x="16" y="-1">1980</text><use href="#SP"/></g>
<g id="p1982" class="n" transform="translate(1430.2 372.5)"><use href="#L4"/><text x="16" y="-1">1982</text><use href="#SP"/></g>
<g id="p1989" class="n" transform="translate(1482.5 406.8)"><use href="#L4"/><text x="16" y="-1">1989</text><use href="#SP"/></g>
<g id="p2010" class="n" transform="translate(1468.2 465.2)"><use href="#L4"/><text x="16" y="-1">2010</text><use href="#SB"/></g>
<g id="p1975" class="n" transform="translate(1414.8 498.5)"><use href="#L4"/><text x="16" y="-1">1975</text><use href="#SP"/></g>
<g id="p1969" class="n" transform="translate(1503 534)"><use href="#L4"/><text x="16" y="-1">1969</text><use href="#SP"/></g>
<g id="p2011" class="n" transform="translate(1373.2 534)"><use href="#L4"/><text x="16" y="-1">2011</text><use href="#SB"/></g>
<g id="p1981" class="n" transform="translate(1448.2 560)"><use href="#L4"/><text x="16" y="-1">1981</text><use href="#SP"/></g>
<g id="p1981b" class="n" transform="translate(1464.8 602.5)"><use href="#L4"/><text x="16" y="-1">1981</text><use href="#SP"/></g>
<g id="p1995" class="n" transform="translate(1365 623)"><use href="#L4"/><text x="16" y="-1">1995</text><use href="#CB"/></g>
</g>
<g id="highlights">
<ellipse class="ell" cx="274.5" cy="235" rx="91" ry="59" transform="rotate(-60 274.5 235)"/>
<ellipse class="ell" cx="505.5" cy="79" rx="94" ry="56" transform="rotate(-35 505.5 79)"/>
<ellipse class="ell" cx="964" cy="91" rx="62" ry="62"/>
<ellipse class="ell" cx="791.5" cy="326.5" rx="76" ry="66" transform="rotate(-35 791.5 326.5)"/>
<ellipse class="ell" cx="1185.5" cy="401.5" rx="84" ry="55" transform="rotate(-25 1185.5 401.5)"/>
<ellipse class="ell" cx="1100" cy="469" rx="62" ry="62"/>
<ellipse class="ell" cx="960.3" cy="468" rx="120" ry="38" transform="rotate(25 960.3 468)"/>
<ellipse class="ell" cx="1447" cy="168.8" rx="117" ry="60" transform="rotate(65 1447 168.8)"/>
<ellipse class="ell" cx="420" cy="485" rx="122" ry="62" transform="rotate(-55 420 485)"/>
<ellipse class="ell" cx="575.8" cy="731.7" rx="96" ry="76" transform="rotate(-8 575.8 731.7)"/>
<ellipse class="ell" cx="700" cy="718.3" rx="92" ry="45" transform="rotate(-33 700 718.3)"/>
</g>
</g>
<g id="legend">
<text class="lg" x="778" y="848" text-anchor="middle">Legend:</text>
<rect x="507" y="855" width="18" height="18" fill="#ff0000" stroke="#222" stroke-width="1.2"/>
<text class="lg" x="536" y="877" textLength="516" lengthAdjust="spacingAndGlyphs">First migration activity is between 1960 and 1990</text>
<circle cx="516" cy="893" r="10.5" fill="#8eaadc" stroke="#333" stroke-width="1.5"/>
<text class="lg" x="537" y="906" textLength="515" lengthAdjust="spacingAndGlyphs">First migration activity is between 1991 and 2000</text>
<rect x="505.5" y="911.5" width="21" height="21" fill="#8eaadc" stroke="#333" stroke-width="1.5"/>
<text class="lg" x="537" y="936" textLength="515" lengthAdjust="spacingAndGlyphs">First migration activity is between 2001 and 2016</text>
</g>
</svg>
